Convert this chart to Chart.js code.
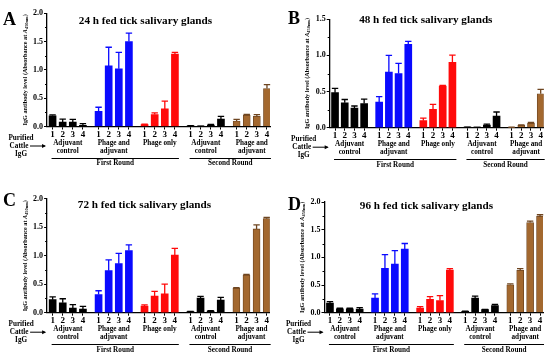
<!DOCTYPE html>
<html><head><meta charset="utf-8">
<script src="https://cdn.jsdelivr.net/npm/chart.js@4/dist/chart.umd.min.js"></script>
<style>
html,body{margin:0;padding:0;background:#fff;}
#wrap{position:relative;width:550px;height:356px;overflow:hidden;background:#fff;}
canvas{position:absolute;}
</style></head><body>
<div id="wrap">
<canvas id="cA" width="275" height="178" style="left:0;top:0"></canvas>
<canvas id="cB" width="275" height="178" style="left:275px;top:0"></canvas>
<canvas id="cC" width="275" height="178" style="left:0;top:178px"></canvas>
<canvas id="cD" width="275" height="178" style="left:275px;top:178px"></canvas>
</div>
<script>
// ---------- data ----------
const barLabels = ['1','2','3','4'];
const groupNames = [['Adjuvant','control'],['Phage and','adjuvant'],['Phage only'],['Adjuvant','control'],['Phage and','adjuvant']];
const roundNames = ['First Round','Second Round'];
const roundGroups = [[0,2],[3,4]];
const leftLabel = ['Purified','Cattle','IgG'];
const panelLetters = ['A','B','C','D'];
const panelTitles = ['24 h fed tick salivary glands','48 h fed tick salivary glands','72 h fed tick salivary glands','96 h fed tick salivary glands'];
const yTitleMain = 'IgG antibody level (Absorbance at ';
const yTitleVar = 'A';
const yTitleSub = '450nm';
const yMaxes = [2.0, 1.5, 2.0, 2.0];

const valuesA = [0.19,0.08,0.08,0.02, 0.27,1.07,1.02,1.50, 0.035,0.21,0.31,1.28, 0.01,0.005,0.025,0.13, 0.095,0.20,0.18,0.67];
const errorsA = [0.015,0.05,0.045,0.03, 0.07,0.33,0.29,0.15, 0.005,0.03,0.14,0.03, 0.003,0.003,0.01,0.05, 0.03,0.015,0.03,0.07];
const valuesB = [0.485,0.345,0.27,0.335, 0.355,0.77,0.75,1.155, 0.097,0.254,0.577,0.905, 0.005,0.003,0.037,0.16, 0.004,0.033,0.06,0.47];
const errorsB = [0.06,0.045,0.03,0.06, 0.075,0.23,0.14,0.04, 0.035,0.07,0.01,0.10, 0.003,0.002,0.013,0.057, 0.002,0.005,0.012,0.06];
const valuesC = [0.228,0.175,0.08,0.065, 0.32,0.737,0.86,1.09, 0.117,0.29,0.33,1.01, 0.02,0.257,0.03,0.22, 0.433,0.66,1.47,1.65];
const errorsC = [0.05,0.07,0.06,0.045, 0.065,0.19,0.18,0.10, 0.02,0.085,0.17,0.12, 0.005,0.03,0.005,0.05, 0.005,0.01,0.07,0.02];
const valuesD = [0.175,0.072,0.072,0.066, 0.265,0.80,0.88,1.15, 0.085,0.24,0.22,0.77, 0.025,0.265,0.055,0.13, 0.505,0.765,1.63,1.74];
const errorsD = [0.025,0.008,0.008,0.025, 0.075,0.25,0.24,0.10, 0.025,0.05,0.09,0.025, 0.005,0.035,0.005,0.02, 0.015,0.03,0.025,0.03];

// ---------- styles / layout ----------
const groupColors = ['#000000','#0a0aff','#ff0a0a','#000000','#a3682f'];
const groupEdge   = ['#000000','#0a0aff','#ff0a0a','#000000','#6e4520'];
const SERIF = '"Liberation Serif","DejaVu Serif",serif';
const GROUP_STEP = 4.55;
const X_MIN = -0.55, X_MAX = 21.5;
const Y_AXIS_W = 24, X_AXIS_H = 12;
const W = 275, H = 178;

const panels = [
  {id:'cA', values:valuesA, errors:errorsA, idx:0, box:{left:47,right:270,top:13.3,bottom:126.5}, letterPos:[3,25], titlePos:[145.5,21]},
  {id:'cB', values:valuesB, errors:errorsB, idx:1, box:{left:54.7,right:268.6,top:19.3,bottom:127.7}, letterPos:[13,24], titlePos:[150.8,20]},
  {id:'cC', values:valuesC, errors:errorsC, idx:2, box:{left:47.1,right:269.7,top:20.7,bottom:134.7}, letterPos:[3,28], titlePos:[144.5,27]},
  {id:'cD', values:valuesD, errors:errorsD, idx:3, box:{left:49.5,right:268,top:24,bottom:134.7}, letterPos:[13,32], titlePos:[151.5,28]}
];

function f(size, weight, style){ return (style||'') + ' ' + (weight||'bold') + ' ' + size + 'px ' + SERIF; }

function makeChart(p){
  const positions = [];
  groupNames.forEach((_,g)=>barLabels.forEach((__,i)=>positions.push(g*GROUP_STEP+i)));
  const colors = positions.map((_,k)=>groupColors[Math.floor(k/barLabels.length)]);
  const edges = positions.map((_,k)=>groupEdge[Math.floor(k/barLabels.length)]);
  const data = p.values.map((v,k)=>({x:positions[k], y:v}));
  const yMax = yMaxes[p.idx];

  const annot = {
    id:'annot',
    afterDatasetsDraw(chart){
      const {ctx, scales:{x,y}} = chart;
      ctx.save();
      ctx.lineWidth = 1.3;
      p.values.forEach((v,k)=>{
        const px = x.getPixelForValue(positions[k]);
        const y0 = y.getPixelForValue(v), y1 = y.getPixelForValue(v+p.errors[k]);
        ctx.strokeStyle = edges[k];
        ctx.beginPath();
        ctx.moveTo(px,y0); ctx.lineTo(px,y1);
        ctx.moveTo(px-3.2,y1); ctx.lineTo(px+3.2,y1);
        ctx.stroke();
      });
      ctx.restore();
    },
    afterDraw(chart){
      const {ctx, chartArea:ca, scales:{x,y}} = chart;
      ctx.save();
      ctx.fillStyle = '#000'; ctx.strokeStyle = '#000';
      // minor y ticks
      ctx.lineWidth = 1;
      for (let v=0.25; v<yMax; v+=0.5){
        const py = Math.round(y.getPixelForValue(v))+0.5;
        ctx.beginPath(); ctx.moveTo(ca.left-2,py); ctx.lineTo(ca.left,py); ctx.stroke();
      }
      // panel letter
      ctx.font = f(18); ctx.textAlign='left'; ctx.textBaseline='alphabetic';
      ctx.fillText(panelLetters[p.idx], p.letterPos[0], p.letterPos[1]);
      // title
      ctx.font = f(11.2); ctx.textAlign='center'; ctx.textBaseline='middle';
      ctx.fillText(panelTitles[p.idx], p.titlePos[0], p.titlePos[1]);
      // y title with subscript
      const segs = [
        {t:yTitleMain, font:f(6.2), dy:0},
        {t:yTitleVar, font:f(6.2,'bold','italic'), dy:0},
        {t:yTitleSub, font:f(4.4), dy:1.6},
        {t:')', font:f(6.2), dy:0}
      ];
      let tot = 0;
      segs.forEach(s=>{ctx.font=s.font; s.w=ctx.measureText(s.t).width; tot+=s.w;});
      ctx.translate(ca.left-22, (ca.top+ca.bottom)/2);
      ctx.rotate(-Math.PI/2);
      ctx.textAlign='left'; ctx.textBaseline='middle';
      let cx = -tot/2;
      segs.forEach(s=>{ctx.font=s.font; ctx.fillText(s.t,cx,s.dy); cx+=s.w;});
      ctx.setTransform(1,0,0,1,0,0);
      // group labels
      const base = ca.bottom;
      ctx.font = f(7.2); ctx.textAlign='center'; ctx.textBaseline='middle';
      groupNames.forEach((lines,g)=>{
        const c = (x.getPixelForValue(g*GROUP_STEP) + x.getPixelForValue(g*GROUP_STEP+3))/2;
        lines.forEach((t,li)=>ctx.fillText(t, c, base+16.5+li*8));
      });
      // rounds
      ctx.lineWidth = 1;
      roundGroups.forEach((rg,r)=>{
        const a = x.getPixelForValue(rg[0]*GROUP_STEP)-1;
        const b = x.getPixelForValue(rg[1]*GROUP_STEP+3)+4;
        const ly = Math.round(base+31)+0.5;
        ctx.beginPath(); ctx.moveTo(a,ly); ctx.lineTo(b,ly); ctx.stroke();
        ctx.fillText(roundNames[r], (a+b)/2, base+37);
      });
      // purified cattle IgG
      ctx.font = f(7.2);
      const lx = ca.left - 26;
      ctx.fillText(leftLabel[0], lx, base+11.5);
      ctx.fillText(leftLabel[1], lx-2, base+19.5);
      ctx.fillText(leftLabel[2], lx, base+27.5);
      const ay = base+19.5;
      ctx.beginPath(); ctx.moveTo(lx+9, ay); ctx.lineTo(ca.left-2, ay); ctx.stroke();
      ctx.beginPath(); ctx.moveTo(ca.left-1, ay); ctx.lineTo(ca.left-5, ay-2); ctx.lineTo(ca.left-5, ay+2); ctx.closePath(); ctx.fill();
      ctx.restore();
    }
  };

  return new Chart(document.getElementById(p.id), {
    type:'bar',
    data:{datasets:[{data, backgroundColor:colors, borderColor:edges, borderWidth:p.values.map((_,k)=>Math.floor(k/4)===4?0.8:0), barThickness:7, borderSkipped:'bottom'}]},
    options:{
      responsive:false, animation:false, devicePixelRatio:1,
      layout:{padding:{left:p.box.left-Y_AXIS_W, right:W-p.box.right, top:p.box.top, bottom:H-p.box.bottom-X_AXIS_H}},
      plugins:{legend:{display:false}, tooltip:{enabled:false}, title:{display:false}},
      scales:{
        x:{type:'linear', min:X_MIN, max:X_MAX, offset:false,
           afterBuildTicks:s=>{s.ticks = positions.map(v=>({value:v}));},
           afterFit:s=>{s.height = X_AXIS_H;},
           ticks:{callback:(v,i)=>barLabels[i%barLabels.length], font:{family:SERIF,size:9,weight:'bold'}, color:'#000', padding:0, autoSkip:false, maxRotation:0, minRotation:0},
           grid:{offset:false, drawOnChartArea:false, drawTicks:true, tickLength:3, color:'#000', lineWidth:1},
           border:{display:true, color:'#000', width:1.3}},
        y:{min:0, max:yMax,
           afterFit:s=>{s.width = Y_AXIS_W;},
           ticks:{stepSize:0.5, callback:v=>Number(v).toFixed(1), font:{family:SERIF,size:8,weight:'bold'}, color:'#000', padding:1},
           grid:{drawOnChartArea:false, drawTicks:true, tickLength:3, color:'#000', lineWidth:1},
           border:{display:true, color:'#000', width:1.3}}
      }
    },
    plugins:[annot]
  });
}
panels.forEach(makeChart);
</script>
</body></html>
